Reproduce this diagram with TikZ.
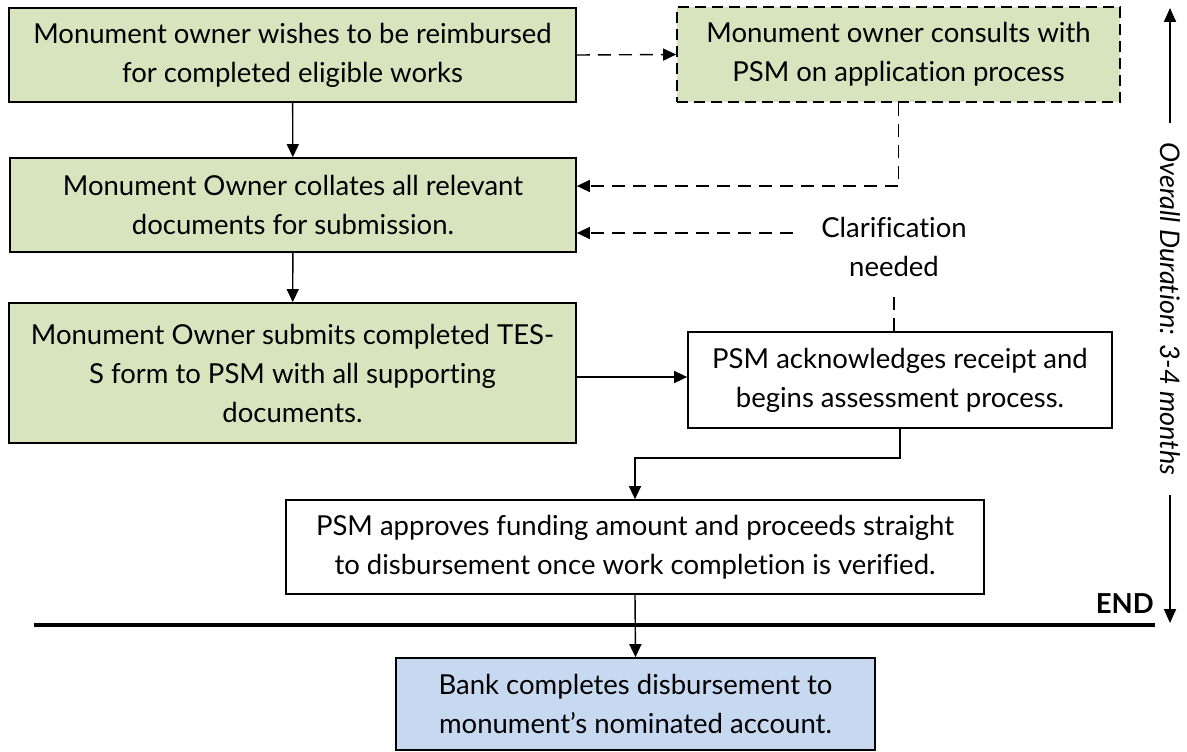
\documentclass[tikz,border=0pt]{standalone}
\usepackage{fontspec}
\setmainfont{Lato}[Ligatures=NoCommon]
\usetikzlibrary{arrows.meta,calc}
\definecolor{boxgreen}{HTML}{D7E4BD}
\definecolor{boxblue}{HTML}{C6D9F1}
\begin{document}
\begin{tikzpicture}[x=1pt,y=-1pt,
  every node/.style={font=\fontsize{27.5}{39}\selectfont},
  stage/.style={draw=black, line width=1.7pt, inner sep=0pt, align=center},
  greenbox/.style={stage, fill=boxgreen},
  plainbox/.style={stage, fill=white},
  bluebox/.style={stage, fill=boxblue},
  link/.style={line width=1.4pt, -{Triangle[length=13pt,width=12pt]}},
  dashlink/.style={link, dash pattern=on 13pt off 8pt},
  dashline/.style={line width=1.4pt, dash pattern=on 13pt off 8pt},
  timeline/.style={line width=2pt, -{Triangle[length=14pt,width=12pt]}}
]
\useasboundingbox (0,0) rectangle (1187,752);

% process boxes
\node[greenbox, minimum width=567pt, minimum height=94pt] (wish) at (292.5,55)
  {Monument owner wishes to be reimbursed\\for completed eligible works};
\node[greenbox, dash pattern=on 11pt off 6pt, minimum width=443pt, minimum height=95pt] (consult) at (898.5,54.5)
  {Monument owner consults with\\PSM on application process};
\node[greenbox, minimum width=566pt, minimum height=94pt] (collate) at (293,205)
  {Monument Owner collates all relevant\\documents for submission.};
\node[greenbox, minimum width=567pt, minimum height=140pt] (submit) at (292.5,373)
  {Monument Owner submits completed TES-\\S form to PSM with all supporting\\documents.};
\node[plainbox, minimum width=424pt, minimum height=96pt] (ack) at (900,380)
  {PSM acknowledges receipt and\\begins assessment process.};
\node[plainbox, minimum width=698pt, minimum height=94pt] (approve) at (635,547)
  {PSM approves funding amount and proceeds straight\\to disbursement once work completion is verified.};
\node[bluebox, minimum width=479pt, minimum height=92pt] (bank) at (635.5,704)
  {Bank completes disbursement to\\monument’s nominated account.};

% clarification label
\node[align=center, inner sep=0pt] (clar) at (894,247) {Clarification\\needed};

% helper coordinates for the connector routes
\coordinate (consultrow) at (0,186);
\coordinate (clarstart) at (793,233);
\coordinate (clarfoot) at (894,297);
\coordinate (submitrow) at (0,377);
\coordinate (elbow) at (0,458);

% main flow
\draw[link] (wish) -- (collate);
\draw[link] (collate) -- (submit);
\draw[link] (submit.east |- submitrow) -- (ack.west |- submitrow);
\draw[link] (ack.south) |- (approve.north |- elbow) -- (approve.north);
\draw[link] (approve.south) -- (bank.north);

% consultation and clarification loops
\draw[dashlink] (wish.east) -- (consult.west);
\draw[dashlink] (consult.south) |- (collate.east |- consultrow);
\draw[dashlink] (clarstart) -- (collate.east |- clarstart);
\draw[dashline] (clarfoot |- ack.north) -- (clarfoot);

% end of process
\coordinate (endleft) at (34,625);
\coordinate (endright) at (1155,625);
\draw[line width=4pt] (endleft) -- (endright);
\node[font=\fontsize{27.5}{39}\selectfont\bfseries, anchor=east, inner sep=0pt] (endlabel) at (1154,604) {END};

% overall duration
\coordinate (uplow) at (1170,123);
\coordinate (uptop) at (1170,8);
\coordinate (downtop) at (1170,495);
\coordinate (downlow) at (1170,623);
\draw[timeline] (uplow) -- (uptop);
\draw[timeline] (downtop) -- (downlow);
\node[font=\fontsize{27}{39}\selectfont\itshape, rotate=-90, inner sep=0pt] (duration) at (1170,309)
  {Overall Duration: 3-4 months};
\end{tikzpicture}
\end{document}
